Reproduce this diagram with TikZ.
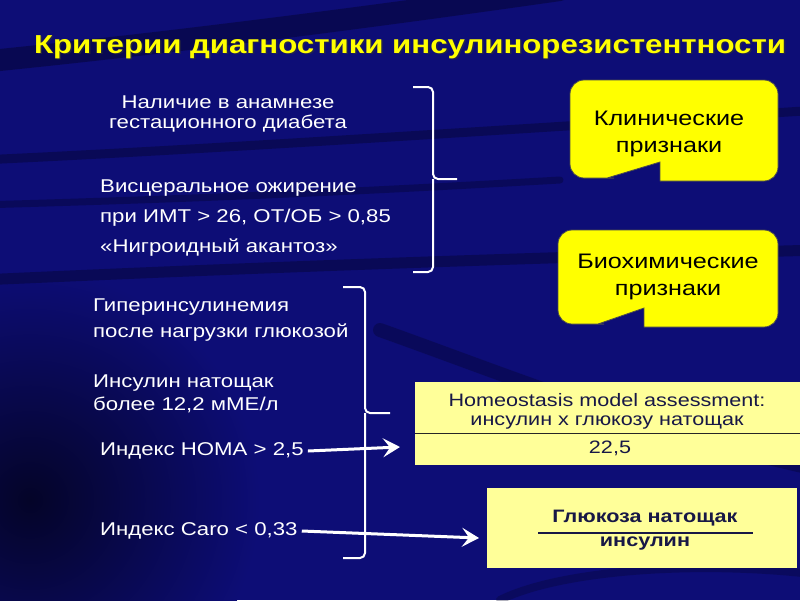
\documentclass[tikz,border=0pt]{standalone}
\usepackage{fontspec}
\setmainfont{Liberation Sans}[FakeStretch=1.2]
\usetikzlibrary{arrows.meta}
\definecolor{navy}{RGB}{13,13,118}
\definecolor{darkband}{RGB}{4,4,40}
\definecolor{ttl}{RGB}{255,255,0}
\definecolor{lightyel}{RGB}{255,255,153}
\definecolor{boxtxt}{RGB}{24,24,70}
\tikzset{
  whitetxt/.style={text=white, font=\fontsize{18.5}{22}\selectfont, inner sep=0pt, align=left},
  bracestroke/.style={draw=white, line width=2pt, rounded corners=5pt},
  arrowstroke/.style={draw=white, line width=3pt, -{Stealth[length=17pt,width=19pt,inset=7pt]}},
  calltxt/.style={text=black, font=\fontsize{21}{27}\selectfont, align=center, inner sep=0pt},
  formbox/.style={fill=lightyel, draw=none, inner sep=0pt},
  formtxt/.style={text=boxtxt, font=\fontsize{18}{22}\selectfont, inner sep=0pt},
  band/.style={draw=darkband, line cap=round}
}
\begin{document}
\begin{tikzpicture}[x=1pt,y=-1pt]
\useasboundingbox (0,0) rectangle (800,600);
% background
\fill[navy] (0,0) rectangle (800,600);
\begin{scope}
\clip (0,0) rectangle (800,600);
\shade[inner color=darkband, outer color=navy] (30,500) circle (230);
\draw[band, line width=22pt, opacity=0.45] (-20,62) .. controls (200,40) and (420,10) .. (560,-10);
\draw[band, line width=9pt, opacity=0.4] (-20,160) .. controls (200,150) and (500,130) .. (820,110);
\draw[band, line width=7pt, opacity=0.35] (-20,205) .. controls (150,200) and (300,195) .. (560,180);
\draw[band, line width=11pt, opacity=0.4] (-20,280) .. controls (200,270) and (450,260) .. (820,250);
\draw[band, line width=14pt, opacity=0.35] (380,330) .. controls (520,380) and (640,430) .. (820,470);
\draw[band, line width=8pt, opacity=0.3] (500,600) .. controls (560,570) and (700,560) .. (820,575);
\end{scope}
% title
\node[text=black!80, font=\fontsize{26}{30}\selectfont\bfseries, opacity=0.6] at (411.5,48.5) {Критерии диагностики инсулинорезистентности};
\node (title) [text=ttl, font=\fontsize{26}{30}\selectfont\bfseries] at (410,47) {Критерии диагностики инсулинорезистентности};
% left texts
\node (t1) [whitetxt, align=center] at (228,114) {Наличие в анамнезе\\[-2pt]гестационного диабета};
\node (t2) [whitetxt, anchor=west, font=\fontsize{18.5}{30}\selectfont] at (100,218) {Висцеральное ожирение\\при ИМТ > 26, ОТ/ОБ > 0,85\\«Нигроидный акантоз»};
\node (t3) [whitetxt, anchor=west, font=\fontsize{18.5}{26}\selectfont] at (93,320) {Гиперинсулинемия\\после нагрузки глюкозой};
\node (t4) [whitetxt, anchor=west, font=\fontsize{18.5}{23}\selectfont] at (93,394) {Инсулин натощак\\более 12,2 мМЕ/л};
\node (homa) [whitetxt, anchor=west] at (100,451) {Индекс НОМА > 2,5};
\node (caro) [whitetxt, anchor=west] at (100,531) {Индекс Caro < 0,33};
% braces
\draw[bracestroke] (413,87) -- (433,87) -- (433,179) -- (457,179);
\draw[bracestroke] (413,272) -- (433,272) -- (433,179);
\draw[bracestroke] (343,287) -- (365,287) -- (365,413) -- (390,413);
\draw[bracestroke] (343,558) -- (365,558) -- (365,413);
% callouts
\path[fill=ttl, draw=black!70, line width=0.8pt, rounded corners=14pt]
  (660,181) -- (778,181) -- (778,80) -- (570,80) -- (570,178) -- (600,178) [sharp corners] -- (607,178) -- (660,162) -- cycle;
\node (clin) [calltxt] at (669,134) {Клинические\\признаки};
\path[fill=ttl, draw=black!70, line width=0.8pt, rounded corners=14pt]
  (644,327) -- (778,327) -- (778,230) -- (558,230) -- (558,324) -- (590,324) [sharp corners] -- (598,324) -- (644,308) -- cycle;
\node (bio) [calltxt] at (668,277) {Биохимические\\признаки};
% HOMA box
\node (homabox) [formbox, minimum width=385pt, minimum height=83pt] at (607.5,423.5) {};
\draw[black!85, line width=1pt] (homabox.west |- 0,433) -- (homabox.east |- 0,433);
\node (homat) [formtxt] at (607,400) {Homeostasis model assessment:};
\node (homan) [formtxt] at (607,423) {инсулин х глюкозу натощак};
\node (homad) [formtxt] at (610,448) {22,5};
% Caro box
\node (carobox) [formbox, minimum width=310pt, minimum height=80pt] at (642,528) {};
\node (caron) [formtxt, font=\fontsize{18}{22}\selectfont\bfseries] at (645,518) {Глюкоза натощак};
\node (carod) [formtxt, font=\fontsize{18}{22}\selectfont\bfseries] at (645,544) {инсулин};
\draw[boxtxt, line width=1.2pt] (538,533) -- (753,533);
% arrows
\coordinate (homaend) at (400,447);
\coordinate (caroend) at (479,538);
\draw[arrowstroke] ([xshift=4pt]homa.east) -- (homaend);
\draw[arrowstroke] ([xshift=4pt]caro.east) -- (caroend);
\end{tikzpicture}
\end{document}
